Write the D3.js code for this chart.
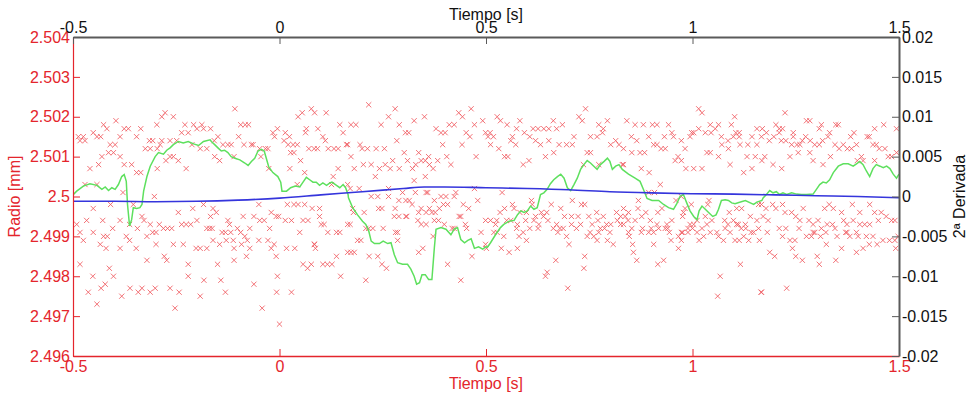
<!DOCTYPE html>
<html>
<head>
<meta charset="utf-8">
<script src="https://cdn.jsdelivr.net/npm/d3@7"></script>
<style>
  body { margin: 0; background: #fff; }
  svg text { font-family: "Liberation Sans", Arial, sans-serif; font-size: 16px; }
</style>
</head>
<body>
<svg id="chart" width="971" height="396"></svg>
<script>
// ---- data ----
const xTicks = [-0.5, 0, 0.5, 1, 1.5];
const radioTicks = [2.496, 2.497, 2.498, 2.499, 2.5, 2.501, 2.502, 2.503, 2.504];
const derivTicks = [-0.02, -0.015, -0.01, -0.005, 0, 0.005, 0.01, 0.015, 0.02];

// measured radius samples [t, r]
const radioPts = [
  [-0.277,2.5021],[-0.257,2.5020],[-0.285,2.5020],[-0.426,2.5018],[-0.396,2.5019],[-0.208,2.5018],[-0.229,2.5018],[-0.188,2.5018],
  [-0.487,2.5015],[-0.475,2.5015],[-0.451,2.5016],[-0.442,2.5015],[-0.433,2.5015],[-0.418,2.5017],[-0.386,2.5015],[-0.376,2.5017],
  [-0.366,2.5017],[-0.346,2.5015],[-0.336,2.5017],[-0.297,2.5018],[-0.237,2.5016],[-0.221,2.5016],[-0.200,2.5017],[-0.184,2.5017],
  [-0.483,2.5014],[-0.471,2.5014],[-0.410,2.5013],[-0.398,2.5013],[-0.315,2.5014],[-0.307,2.5014],[-0.285,2.5014],[-0.265,2.5014],
  [-0.249,2.5014],[-0.212,2.5013],[-0.414,2.5011],[-0.402,2.5011],[-0.325,2.5012],[-0.313,2.5012],[-0.296,2.5012],[-0.289,2.5013],
  [-0.192,2.5012],[-0.176,2.5012],[-0.430,2.5010],[-0.386,2.5010],[-0.265,2.5010],[-0.257,2.5010],[-0.275,2.5009],[-0.245,2.5009],
  [-0.459,2.5007],[-0.438,2.5008],[-0.376,2.5008],[-0.358,2.5008],[-0.346,2.5006],[-0.336,2.5006],[-0.296,2.5007],[-0.226,2.5007],
  [-0.471,2.5003],[-0.442,2.5003],[-0.379,2.5001],[-0.303,2.5000],
  [-0.451,2.4997],[-0.409,2.4998],[-0.354,2.4998],[-0.245,2.4996],[-0.210,2.4997],[-0.184,2.4998],
  [-0.491,2.4993],[-0.467,2.4994],[-0.428,2.4994],[-0.386,2.4994],[-0.363,2.4993],[-0.333,2.4995],[-0.328,2.4994],[-0.313,2.4993],
  [-0.291,2.4993],[-0.281,2.4992],[-0.271,2.4992],[-0.261,2.4992],[-0.237,2.4993],[-0.226,2.4993],[-0.215,2.4993],[-0.200,2.4994],
  [-0.176,2.4992],[-0.483,2.4991],[-0.475,2.4989],[-0.451,2.4991],[-0.426,2.4990],[-0.417,2.4990],[-0.404,2.4992],[-0.371,2.4990],
  [-0.363,2.4989],[-0.344,2.4992],[-0.321,2.4990],[-0.307,2.4991],[-0.299,2.4991],[-0.434,2.4988],[-0.420,2.4987],[-0.386,2.4987],
  [-0.347,2.4987],[-0.299,2.4988],[-0.257,2.4988],[-0.233,2.4988],[-0.202,2.4987],[-0.192,2.4987],[-0.176,2.4987],
  [-0.483,2.4983],[-0.321,2.4984],[-0.279,2.4985],[-0.273,2.4984],[-0.221,2.4983],[-0.183,2.4979],[-0.412,2.4982],[-0.221,2.4980],
  [-0.452,2.4980],[-0.402,2.4980],[-0.463,2.4976],[-0.432,2.4977],[-0.422,2.4978],[-0.382,2.4975],[-0.362,2.4977],[-0.342,2.4976],
  [-0.333,2.4977],[-0.313,2.4976],[-0.301,2.4977],[-0.265,2.4977],[-0.243,2.4976],[-0.192,2.4975],[-0.442,2.4973],[-0.253,2.4972],

  [-0.108,2.5022],[0.045,2.5020],[0.055,2.5021],[0.077,2.5022],[0.085,2.5021],[0.113,2.5021],[0.146,2.5018],
  [-0.094,2.5018],[-0.083,2.5018],[-0.075,2.5018],[0.065,2.5017],[0.093,2.5017],[-0.167,2.5017],
  [-0.016,2.5016],[-0.005,2.5017],[0.014,2.5016],[0.024,2.5015],[-0.012,2.5015],[-0.099,2.5015],[0.063,2.5016],
  [0.105,2.5015],[0.111,2.5014],[0.154,2.5016],[-0.149,2.5015],[-0.158,2.5014],[-0.137,2.5013],[-0.125,2.5013],[-0.117,2.5013],
  [-0.086,2.5013],[-0.068,2.5013],[-0.064,2.5013],[-0.034,2.5012],[-0.028,2.5012],[-0.048,2.5012],
  [0.011,2.5014],[0.021,2.5013],[0.033,2.5013],[0.043,2.5013],[0.071,2.5012],[0.084,2.5012],[0.092,2.5012],
  [0.118,2.5012],[0.132,2.5012],[0.142,2.5012],[0.162,2.5013],[-0.157,2.5010],[-0.145,2.5009],[-0.110,2.5010],[-0.045,2.5010],
  [-0.026,2.5007],[0.027,2.5011],[0.035,2.5011],[0.051,2.5009],[0.061,2.5006],[0.025,2.5007],[0.142,2.5007],[0.130,2.5005],
  [0.126,2.5003],[0.043,2.5003],
  [-0.050,2.4998],[-0.161,2.4997],[-0.153,2.4996],[-0.167,2.4995],[0.019,2.4998],[0.035,2.4998],[0.045,2.4998],[0.061,2.4998],
  [-0.020,2.4996],[-0.008,2.4995],[-0.002,2.4995],[0.079,2.4997],[0.097,2.4997],[-0.125,2.4994],[-0.121,2.4993],[-0.088,2.4995],
  [-0.062,2.4995],[-0.048,2.4994],[-0.037,2.4994],[0.014,2.4994],[0.029,2.4994],[0.057,2.4994],[0.069,2.4994],
  [0.101,2.4993],[0.108,2.4993],[0.097,2.4995],[-0.169,2.4992],[-0.163,2.4992],[-0.139,2.4991],[-0.131,2.4991],[-0.118,2.4991],
  [-0.102,2.4992],[-0.094,2.4991],[-0.084,2.4990],[-0.078,2.4989],[-0.072,2.4992],[-0.050,2.4989],[-0.024,2.4992],[-0.028,2.4989],
  [0.049,2.4991],[0.084,2.4988],[0.117,2.4991],[0.138,2.4991],[0.146,2.4991],
  [-0.161,2.4989],[-0.145,2.4988],[-0.129,2.4989],[-0.112,2.4989],[-0.110,2.4987],
  [-0.092,2.4988],[-0.072,2.4987],[-0.020,2.4987],[-0.013,2.4988],[0.017,2.4987],[0.037,2.4987],[0.085,2.4988],[0.087,2.4987],
  [-0.110,2.4984],[-0.080,2.4985],[-0.008,2.4985],[0.057,2.4983],[0.068,2.4982],[0.077,2.4983],
  [0.105,2.4983],[0.116,2.4983],[0.127,2.4983],[0.138,2.4985],[-0.150,2.4983],[-0.142,2.4979],
  [-0.005,2.4980],[0.148,2.4980],[-0.062,2.4978],[-0.131,2.4976],[-0.007,2.4976],[0.029,2.4976],[-0.042,2.4972],[0.000,2.4968],

  [0.216,2.5023],[0.280,2.5022],[0.464,2.5022],[0.264,2.5020],[0.351,2.5020],[0.434,2.5021],[0.443,2.5020],[0.492,2.5019],
  [0.173,2.5018],[0.185,2.5018],[0.246,2.5018],[0.290,2.5018],[0.305,2.5016],[0.313,2.5016],[0.326,2.5019],
  [0.379,2.5017],[0.391,2.5016],[0.401,2.5016],[0.411,2.5018],[0.423,2.5018],[0.452,2.5016],[0.461,2.5015],[0.472,2.5018],
  [0.165,2.5013],[0.173,2.5010],[0.195,2.5013],[0.200,2.5012],[0.213,2.5012],[0.234,2.5012],[0.254,2.5012],[0.284,2.5014],
  [0.302,2.5011],[0.337,2.5011],[0.361,2.5010],[0.395,2.5013],[0.442,2.5013],[0.476,2.5010],
  [0.181,2.5007],[0.203,2.5008],[0.222,2.5008],[0.232,2.5005],[0.242,2.5007],[0.256,2.5008],[0.268,2.5007],[0.274,2.5009],
  [0.290,2.5007],[0.310,2.5009],[0.322,2.5007],[0.330,2.5008],[0.343,2.5009],[0.353,2.5009],[0.363,2.5008],[0.372,2.5007],
  [0.383,2.5009],[0.405,2.5010],[0.415,2.5008],[0.353,2.5005],[0.326,2.5004],
  [0.193,2.5002],[0.264,2.5002],[0.298,2.5001],[0.329,2.5001],[0.355,2.5001],[0.359,2.5001],[0.427,2.5001],[0.472,2.5002],
  [0.171,2.5002],[0.165,2.5003],[0.222,2.5000],[0.238,2.5000],[0.264,2.5000],[0.289,2.4999],[0.306,2.4999],[0.314,2.4999],
  [0.321,2.4998],[0.375,2.4999],[0.391,2.5000],[0.403,2.5000],[0.423,2.5000],[0.397,2.4998],[0.407,2.4998],[0.445,2.4998],
  [0.458,2.4997],[0.480,2.4999],[0.177,2.4997],[0.179,2.4996],[0.205,2.4996],[0.240,2.4997],[0.248,2.4997],[0.280,2.4997],
  [0.308,2.4995],[0.337,2.4996],[0.343,2.4997],[0.363,2.4997],[0.377,2.4996],[0.387,2.4997],[0.369,2.4996],[0.355,2.4996],
  [0.435,2.4995],[0.439,2.4995],[0.165,2.4993],[0.171,2.4993],[0.209,2.4992],[0.216,2.4992],[0.226,2.4992],[0.251,2.4992],
  [0.278,2.4995],[0.289,2.4995],[0.306,2.4995],[0.335,2.4994],[0.343,2.4993],[0.355,2.4993],[0.375,2.4994],[0.385,2.4994],
  [0.399,2.4993],[0.418,2.4992],[0.423,2.4992],[0.450,2.4993],[0.453,2.4992],[0.488,2.4991],[0.189,2.4989],[0.197,2.4989],
  [0.281,2.4991],[0.286,2.4991],[0.286,2.4989],[0.372,2.4990],[0.165,2.4986],[0.173,2.4986],[0.181,2.4986],[0.217,2.4985],
  [0.238,2.4985],[0.347,2.4987],[0.337,2.4986],[0.466,2.4985],[0.248,2.4983],[0.259,2.4982],[0.407,2.4983],
  [0.209,2.4979],[0.439,2.4979],

  [0.741,2.5022],[0.725,2.5020],[0.733,2.5019],[0.527,2.5020],[0.535,2.5019],[0.582,2.5019],[0.551,2.5018],[0.663,2.5019],
  [0.574,2.5017],[0.614,2.5017],[0.626,2.5017],[0.640,2.5017],[0.652,2.5017],[0.671,2.5017],[0.685,2.5018],
  [0.773,2.5018],[0.784,2.5017],[0.794,2.5019],[0.782,2.5016],[0.499,2.5016],[0.510,2.5016],[0.518,2.5015],[0.505,2.5015],
  [0.564,2.5015],[0.593,2.5016],[0.606,2.5015],[0.620,2.5014],[0.632,2.5013],[0.652,2.5014],[0.677,2.5013],[0.695,2.5013],
  [0.709,2.5013],[0.713,2.5015],[0.753,2.5015],[0.769,2.5015],[0.802,2.5013],[0.814,2.5014],[0.822,2.5013],
  [0.560,2.5014],[0.572,2.5013],[0.511,2.5013],[0.531,2.5012],[0.545,2.5010],[0.553,2.5010],[0.590,2.5008],[0.604,2.5009],
  [0.644,2.5010],[0.664,2.5011],[0.745,2.5011],[0.753,2.5011],[0.736,2.5008],[0.773,2.5008],[0.830,2.5008],
  [0.539,2.5001],[0.709,2.4999],[0.731,2.4998],[0.739,2.4998],[0.658,2.4998],[0.610,2.4999],[0.612,2.4998],
  [0.534,2.4996],[0.545,2.4997],[0.564,2.4998],[0.568,2.4997],[0.582,2.4996],[0.598,2.4996],[0.620,2.4995],[0.634,2.4996],
  [0.647,2.4996],[0.681,2.4997],[0.690,2.4995],[0.707,2.4995],[0.723,2.4995],[0.749,2.4995],[0.768,2.4996],[0.784,2.4995],
  [0.816,2.4996],[0.826,2.4995],[0.499,2.4994],[0.511,2.4994],[0.526,2.4994],[0.523,2.4993],[0.550,2.4994],[0.560,2.4994],
  [0.576,2.4993],[0.596,2.4994],[0.616,2.4994],[0.628,2.4993],[0.639,2.4995],[0.650,2.4994],[0.663,2.4992],[0.671,2.4993],
  [0.679,2.4992],[0.687,2.4992],[0.707,2.4993],[0.719,2.4992],[0.729,2.4993],[0.757,2.4993],[0.771,2.4994],[0.777,2.4992],
  [0.792,2.4993],[0.802,2.4993],[0.818,2.4994],[0.826,2.4993],[0.527,2.4991],[0.519,2.4991],[0.543,2.4990],[0.574,2.4992],
  [0.590,2.4991],[0.606,2.4992],[0.626,2.4992],[0.580,2.4990],[0.598,2.4989],[0.674,2.4991],[0.695,2.4990],
  [0.752,2.4991],[0.761,2.4990],[0.773,2.4991],[0.787,2.4992],[0.800,2.4991],[0.745,2.4990],[0.769,2.4989],[0.794,2.4989],
  [0.808,2.4988],[0.499,2.4988],[0.501,2.4987],[0.537,2.4987],[0.556,2.4986],[0.576,2.4987],[0.701,2.4988],
  [0.669,2.4984],[0.739,2.4985],[0.737,2.4982],[0.648,2.4981],[0.644,2.4980],[0.698,2.4977],

  [1.015,2.5022],[1.023,2.5021],[1.102,2.5020],[0.841,2.5019],[0.861,2.5018],[0.881,2.5018],[0.903,2.5018],[0.914,2.5018],
  [0.942,2.5018],[0.950,2.5016],[1.015,2.5017],[1.003,2.5016],[1.043,2.5018],[1.055,2.5017],[1.063,2.5018],
  [1.094,2.5018],[1.105,2.5016],[1.113,2.5016],[1.156,2.5017],[0.852,2.5015],[0.865,2.5014],[0.894,2.5015],[0.906,2.5013],
  [0.914,2.5013],[0.932,2.5015],[0.954,2.5015],[0.973,2.5014],[0.994,2.5015],[0.998,2.5016],
  [1.031,2.5016],[1.045,2.5016],[1.070,2.5015],[1.086,2.5014],[1.099,2.5015],[1.113,2.5015],
  [1.071,2.5013],[1.087,2.5012],[1.115,2.5013],[1.134,2.5013],[1.144,2.5015],[1.156,2.5013],
  [0.833,2.5012],[0.853,2.5011],[0.873,2.5011],[0.884,2.5011],[0.924,2.5012],[0.934,2.5012],
  [0.958,2.5009],[0.965,2.5010],[0.973,2.5009],[0.982,2.5012],[1.035,2.5011],[1.043,2.5011],[1.063,2.5010],
  [1.132,2.5010],[1.152,2.5010],[1.168,2.5009],[0.876,2.5007],[0.895,2.5006],[0.984,2.5007],[1.003,2.5007],[1.023,2.5007],
  [1.091,2.5008],[1.124,2.5006],[1.144,2.5007],[0.922,2.5003],[0.833,2.5008],
  [0.869,2.4999],[0.894,2.5001],[0.908,2.5001],[0.973,2.5000],[0.960,2.4999],[1.037,2.4998],[1.040,2.4999],[0.997,2.4998],
  [0.833,2.4997],[0.845,2.4996],[0.868,2.4997],[0.887,2.4996],[0.916,2.4996],[0.926,2.4997],[0.978,2.4996],[0.982,2.4997],
  [1.089,2.4996],[1.107,2.4997],[1.119,2.4997],[1.160,2.4998],
  [0.837,2.4995],[0.844,2.4994],[0.861,2.4994],[0.877,2.4995],[0.898,2.4994],[0.914,2.4993],[0.938,2.4993],[0.950,2.4994],
  [0.976,2.4995],[0.994,2.4993],[1.003,2.4993],[1.011,2.4994],[1.031,2.4995],[1.047,2.4994],
  [1.078,2.4994],[1.086,2.4993],[1.099,2.4994],[1.111,2.4993],[1.128,2.4993],[1.140,2.4995],[1.156,2.4994],
  [0.833,2.4993],[0.845,2.4991],[0.853,2.4992],[0.879,2.4992],[0.900,2.4992],[0.918,2.4992],[0.934,2.4992],[0.940,2.4992],
  [0.944,2.4991],[0.973,2.4991],[0.976,2.4991],[0.989,2.4992],[1.000,2.4992],[1.011,2.4991],[1.023,2.4992],[1.035,2.4993],
  [1.059,2.4991],[1.079,2.4992],[1.091,2.4991],[1.107,2.4993],[1.118,2.4992],[1.129,2.4992],[1.142,2.4991],[1.160,2.4992],
  [0.876,2.4991],[0.894,2.4991],[0.906,2.4991],[0.966,2.4990],[0.989,2.4991],[1.043,2.4991],[1.063,2.4990],[1.075,2.4989],
  [1.103,2.4989],[1.124,2.4990],[1.148,2.4991],[0.847,2.4990],[0.948,2.4989],[1.016,2.4989],[0.973,2.4989],[1.113,2.4989],
  [1.136,2.4989],[1.162,2.4989],[0.906,2.4988],[0.966,2.4987],[1.027,2.4990],[0.855,2.4988],[0.857,2.4986],[0.865,2.4984],
  [0.916,2.4983],[0.930,2.4984],[1.116,2.4983],[1.067,2.4980],[1.061,2.4975],[1.166,2.4976],

  [1.224,2.5021],[1.276,2.5019],[1.284,2.5019],[1.202,2.5018],[1.210,2.5017],[1.218,2.5017],[1.244,2.5016],[1.244,2.5015],
  [1.307,2.5017],[1.312,2.5018],[1.347,2.5018],[1.353,2.5018],[1.391,2.5016],[1.383,2.5015],[1.441,2.5017],[1.463,2.5018],
  [1.494,2.5017],[1.169,2.5017],[1.179,2.5016],[1.186,2.5014],[1.197,2.5015],[1.167,2.5015],[1.210,2.5016],[1.215,2.5014],
  [1.226,2.5014],[1.240,2.5013],[1.253,2.5013],[1.260,2.5013],[1.266,2.5014],[1.274,2.5015],[1.285,2.5014],[1.296,2.5013],
  [1.307,2.5013],[1.315,2.5014],[1.328,2.5015],[1.332,2.5016],[1.345,2.5013],[1.355,2.5012],[1.365,2.5013],[1.375,2.5012],
  [1.385,2.5012],[1.397,2.5013],[1.423,2.5015],[1.428,2.5015],[1.437,2.5013],[1.445,2.5013],[1.452,2.5012],[1.466,2.5012],
  [1.474,2.5010],[1.482,2.5010],[1.494,2.5011],[1.175,2.5010],[1.236,2.5010],[1.256,2.5011],[1.284,2.5011],[1.334,2.5010],
  [1.316,2.5008],[1.399,2.5009],[1.409,2.5010],[1.413,2.5009],[1.195,2.5008],[1.216,2.5007],[1.292,2.5009],[1.441,2.5009],
  [1.167,2.4998],[1.178,2.4997],[1.194,2.4998],[1.202,2.4997],[1.218,2.4998],[1.268,2.4997],[1.320,2.4997],[1.331,2.4998],
  [1.341,2.4997],[1.361,2.4996],[1.387,2.4998],[1.405,2.4996],[1.429,2.4998],[1.441,2.4996],[1.457,2.4996],[1.469,2.4995],
  [1.482,2.4994],[1.490,2.4994],[1.171,2.4995],[1.183,2.4994],[1.224,2.4996],[1.240,2.4996],[1.250,2.4995],[1.260,2.4994],
  [1.282,2.4994],[1.292,2.4993],[1.304,2.4994],[1.312,2.4992],[1.326,2.4993],[1.339,2.4993],[1.366,2.4994],[1.374,2.4993],
  [1.389,2.4994],[1.405,2.4993],[1.417,2.4993],[1.429,2.4993],[1.450,2.4994],
  [1.181,2.4991],[1.210,2.4992],[1.226,2.4992],[1.258,2.4992],[1.292,2.4991],[1.323,2.4991],[1.345,2.4992],[1.371,2.4991],
  [1.397,2.4991],[1.421,2.4990],[1.218,2.4990],[1.236,2.4989],[1.248,2.4989],[1.276,2.4990],[1.288,2.4990],[1.296,2.4991],
  [1.310,2.4990],[1.350,2.4990],[1.374,2.4991],[1.381,2.4990],[1.401,2.4990],[1.437,2.4990],[1.461,2.4989],[1.477,2.4989],
  [1.490,2.4989],[1.498,2.4990],[1.324,2.4988],[1.361,2.4987],[1.397,2.4986],[1.413,2.4987],[1.428,2.4988],[1.447,2.4988],
  [1.187,2.4986],[1.199,2.4985],[1.242,2.4987],[1.250,2.4985],[1.266,2.4984],[1.302,2.4985],[1.307,2.4983],[1.347,2.4984],
  [1.492,2.4987],[1.167,2.4976],[1.228,2.4977]
];

// smooth fitted radius (blue), left axis
const ajusteT = [-0.5, -0.4, -0.3, -0.2, -0.1, 0, 0.1, 0.2, 0.3, 0.35, 0.4, 0.5, 0.6, 0.7, 0.8, 0.9, 1.0, 1.1, 1.2, 1.3, 1.4, 1.5];
const ajusteR = [2.49988, 2.49988, 2.49987, 2.49988, 2.49991, 2.49996, 2.50004, 2.50012, 2.50020, 2.50024, 2.50024, 2.50022,
                 2.50020, 2.50017, 2.50012, 2.50009, 2.50007, 2.50006, 2.50004, 2.50002, 2.50000, 2.49997];

// second derivative (green), right axis
const derivada = [
  [-0.5,0.00025],[-0.499,0.00025],[-0.491,0.00067],[-0.475,0.0013],[-0.459,0.0016],[-0.442,0.0014],[-0.430,0.0009],
  [-0.422,0.0012],[-0.414,0.00075],[-0.406,0.0011],[-0.398,0.0009],[-0.390,0.0015],[-0.382,0.0025],[-0.376,0.00275],
  [-0.371,0.0019],[-0.368,-0.001],[-0.363,-0.0037],[-0.358,-0.0029],[-0.354,-0.0014],[-0.346,-0.0015],[-0.338,-0.0014],
  [-0.333,-0.001],[-0.329,0.00067],[-0.321,0.0025],[-0.313,0.0038],[-0.301,0.0050],[-0.293,0.0055],[-0.281,0.0053],
  [-0.273,0.0058],[-0.265,0.0061],[-0.257,0.0065],[-0.245,0.0069],[-0.233,0.0067],[-0.221,0.0069],[-0.208,0.0066],
  [-0.196,0.0064],[-0.184,0.0069],[-0.168,0.0071],
  [-0.165,0.0069],[-0.157,0.0065],[-0.149,0.0061],[-0.141,0.0057],[-0.133,0.0058],[-0.125,0.0055],[-0.117,0.0050],
  [-0.108,0.0048],[-0.096,0.0046],[-0.084,0.0042],[-0.076,0.0039],[-0.068,0.0044],[-0.060,0.0048],[-0.052,0.0057],
  [-0.044,0.0059],[-0.037,0.0057],[-0.032,0.0048],[-0.026,0.0037],[-0.016,0.0030],[-0.004,0.0025],[0.003,0.0018],
  [0.006,0.00067],[0.017,0.00067],[0.027,0.0011],[0.038,0.0013],[0.049,0.0012],[0.057,0.0018],[0.065,0.0024],
  [0.073,0.0021],[0.081,0.0018],[0.089,0.0018],[0.097,0.0014],[0.105,0.0017],[0.114,0.0014],[0.122,0.0017],
  [0.127,0.0018],[0.138,0.0014],[0.146,0.0011],[0.154,0.0015],[0.160,0.0011],[0.166,0.00025],
  [0.167,-0.00017],[0.177,-0.0014],[0.189,-0.0023],[0.201,-0.0031],[0.209,-0.0035],[0.216,-0.0043],[0.222,-0.0056],
  [0.230,-0.0059],[0.242,-0.0059],[0.251,-0.0056],[0.262,-0.0059],[0.270,-0.0058],[0.278,-0.0073],[0.286,-0.0083],
  [0.298,-0.0085],[0.310,-0.0085],[0.318,-0.0091],[0.326,-0.0100],[0.332,-0.0110],[0.339,-0.0108],[0.345,-0.0098],
  [0.353,-0.0098],[0.361,-0.0104],[0.369,-0.0104],[0.375,-0.0064],[0.379,-0.0041],[0.391,-0.0039],[0.403,-0.0041],
  [0.415,-0.0048],[0.423,-0.0041],[0.431,-0.0039],[0.439,-0.0054],[0.448,-0.0058],[0.456,-0.0055],[0.464,-0.0053],
  [0.472,-0.0065],[0.482,-0.0063],[0.492,-0.0066],[0.500,-0.0063],
  [0.503,-0.0064],[0.511,-0.0058],[0.523,-0.0048],[0.535,-0.0039],[0.543,-0.0035],[0.556,-0.0031],[0.568,-0.0030],
  [0.576,-0.0023],[0.584,-0.0018],[0.592,-0.0020],[0.600,-0.0018],[0.608,-0.0012],[0.616,-0.0016],[0.624,-0.0014],
  [0.632,0.00025],[0.640,0.00046],[0.648,0.0009],[0.656,0.0016],[0.664,0.0021],[0.673,0.0025],[0.681,0.0028],
  [0.689,0.0023],[0.697,0.0011],[0.705,0.00075],[0.713,0.0015],[0.721,0.0023],[0.729,0.0034],[0.737,0.0040],
  [0.745,0.0045],[0.753,0.0042],[0.761,0.0038],[0.769,0.0034],[0.777,0.0040],[0.786,0.0044],[0.794,0.0048],
  [0.800,0.0044],[0.806,0.0034],[0.814,0.0038],[0.822,0.0040],[0.830,0.0034],
  [0.845,0.0028],[0.861,0.0023],[0.873,0.0019],[0.881,0.0009],[0.890,-0.00025],[0.902,-0.0005],[0.918,-0.0005],
  [0.930,-0.001],[0.942,-0.0014],[0.954,-0.0016],[0.962,-0.0009],[0.970,0.00004],[0.978,0.00025],[0.986,-0.0008],
  [0.994,-0.0018],[1.003,-0.0025],[1.011,-0.0029],[1.016,-0.0018],[1.023,-0.0012],[1.031,-0.0016],[1.039,-0.0020],
  [1.049,-0.0025],[1.057,-0.0023],[1.063,-0.0016],[1.070,-0.0005],[1.079,-0.0004],[1.087,-0.0005],[1.095,-0.0008],
  [1.103,-0.0009],[1.116,-0.0007],[1.128,-0.0005],[1.140,-0.0008],[1.148,-0.0010],[1.156,-0.0007],[1.168,-0.0005],
  [1.171,-0.00017],[1.179,0.00025],[1.187,0.00075],[1.195,0.00046],[1.203,0.0006],[1.211,0.00025],[1.219,0.00046],
  [1.228,0.00025],[1.240,0.00046],[1.252,0.0003],[1.264,0.00025],[1.276,0.00025],[1.292,0.0003],[1.300,0.0009],
  [1.308,0.0015],[1.316,0.0018],[1.324,0.0017],[1.332,0.0021],[1.341,0.0030],[1.353,0.0038],[1.365,0.0041],
  [1.377,0.0041],[1.389,0.0038],[1.397,0.0041],[1.405,0.0044],[1.413,0.0040],[1.421,0.0032],[1.429,0.0025],
  [1.437,0.0035],[1.445,0.0040],[1.454,0.0038],[1.462,0.0036],[1.470,0.0038],[1.478,0.0035],[1.486,0.0028],
  [1.494,0.0023],[1.500,0.0028]
];

// ---- layout ----
const RED = '#e4252c';
const GREY = '#5a5a5a';
const plot = { left: 73, right: 899, top: 37, bottom: 356 };

const svg = d3.select('#chart');

const x = d3.scaleLinear().domain([-0.5, 1.5]).range([plot.left, plot.right]);
const yR = d3.scaleLinear().domain([2.496, 2.504]).range([plot.bottom, plot.top]);
const yD = d3.scaleLinear().domain([-0.02, 0.02]).range([plot.bottom, plot.top]);

svg.append('defs').append('clipPath').attr('id', 'clip')
  .append('rect')
  .attr('x', plot.left).attr('y', plot.top)
  .attr('width', plot.right - plot.left).attr('height', plot.bottom - plot.top);

const dataG = svg.append('g').attr('clip-path', 'url(#clip)');

// red x markers
const s = 2.6;
dataG.append('g').selectAll('path').data(radioPts).enter().append('path')
  .attr('d', d => {
    const cx = x(d[0]), cy = yR(d[1]);
    return `M${cx - s},${cy - s}L${cx + s},${cy + s}M${cx - s},${cy + s}L${cx + s},${cy - s}`;
  })
  .attr('stroke', '#f05a60')
  .attr('stroke-width', 1)
  .attr('opacity', 0.85)
  .attr('fill', 'none');

// green second derivative
dataG.append('path')
  .datum(derivada)
  .attr('d', d3.line().x(d => x(d[0])).y(d => yD(d[1])))
  .attr('fill', 'none')
  .attr('stroke', '#5ee05e')
  .attr('stroke-width', 1.5);

// blue fitted radius
dataG.append('path')
  .datum(d3.zip(ajusteT, ajusteR))
  .attr('d', d3.line().curve(d3.curveMonotoneX).x(d => x(d[0])).y(d => yR(d[1])))
  .attr('fill', 'none')
  .attr('stroke', '#3535dc')
  .attr('stroke-width', 1.6);

// ---- axes ----
const fmt = v => String(+v.toFixed(3));

function styleAxis(g, color, width) {
  g.select('.domain').attr('stroke', color).attr('stroke-width', width);
  g.selectAll('.tick line').attr('stroke', color);
  g.selectAll('.tick text')
    .attr('fill', color === RED ? RED : '#111')
    .style('font-family', '"Liberation Sans", Arial, sans-serif')
    .style('font-size', '16px');
}

svg.append('g')
  .attr('transform', `translate(${plot.left},0)`)
  .call(d3.axisLeft(yR).tickValues(radioTicks).tickFormat(fmt).tickSizeInner(-7).tickSizeOuter(0).tickPadding(3))
  .call(g => styleAxis(g, RED, 1.2));

svg.append('g')
  .attr('transform', `translate(0,${plot.bottom})`)
  .call(d3.axisBottom(x).tickValues(xTicks).tickFormat(fmt).tickSizeInner(-7).tickSizeOuter(0).tickPadding(5))
  .call(g => styleAxis(g, RED, 1.5));

svg.append('g')
  .attr('transform', `translate(0,${plot.top})`)
  .call(d3.axisTop(x).tickValues(xTicks).tickFormat(fmt).tickSizeInner(-7).tickSizeOuter(0).tickPadding(4))
  .call(g => styleAxis(g, GREY, 2));

svg.append('g')
  .attr('transform', `translate(${plot.right},0)`)
  .call(d3.axisRight(yD).tickValues(derivTicks).tickFormat(fmt).tickSizeInner(-7).tickSizeOuter(0).tickPadding(3))
  .call(g => styleAxis(g, GREY, 2));

// ---- titles ----
const midX = (plot.left + plot.right) / 2;
const midY = (plot.top + plot.bottom) / 2;

svg.append('text').attr('x', midX).attr('y', 20).attr('text-anchor', 'middle')
  .attr('fill', '#111').text('Tiempo [s]');
svg.append('text').attr('x', midX).attr('y', 389).attr('text-anchor', 'middle')
  .attr('fill', RED).text('Tiempo [s]');
svg.append('text').attr('transform', `translate(20,${midY}) rotate(-90)`).attr('text-anchor', 'middle')
  .attr('fill', RED).text('Radio [mm]');
svg.append('text').attr('transform', `translate(965,${midY}) rotate(-90)`).attr('text-anchor', 'middle')
  .attr('fill', '#111').text('2ª Derivada');
</script>
</body>
</html>
